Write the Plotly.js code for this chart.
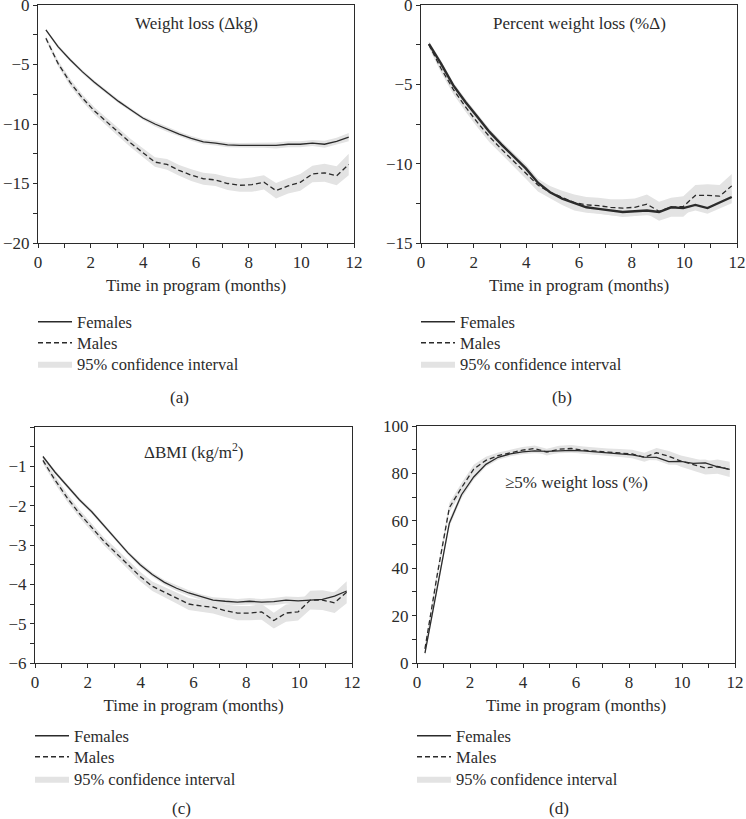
<!DOCTYPE html>
<html>
<head>
<meta charset="utf-8">
<script src="https://cdn.plot.ly/plotly-3.0.1.min.js"></script>
<style>html,body{margin:0;padding:0;background:#fff;}#chart{width:746px;height:819px;}</style>
</head>
<body>
<div id="chart"></div>
<script>
// ---- Data ----
const months = [0.3, 0.76, 1.22, 1.68, 2.14, 2.6, 3.06, 3.52, 3.98, 4.44, 4.9, 5.36, 5.82,
                6.28, 6.74, 7.2, 7.66, 8.12, 8.58, 9.04, 9.5, 9.96, 10.42, 10.88, 11.34, 11.8];

// (a) Weight loss (Δkg)
const weightF   = [-2.1, -3.5, -4.6, -5.6, -6.5, -7.3, -8.1, -8.8, -9.5, -10.0, -10.45, -10.85, -11.2,
                   -11.5, -11.6, -11.75, -11.8, -11.8, -11.8, -11.8, -11.7, -11.7, -11.6, -11.7, -11.45, -11.1];
const weightM   = [-2.8, -4.9, -6.5, -7.8, -8.9, -9.8, -10.7, -11.6, -12.4, -13.2, -13.4, -13.9, -14.3,
                   -14.6, -14.7, -15.0, -15.15, -15.1, -14.9, -15.6, -15.2, -14.9, -14.2, -14.1, -14.35, -13.4];
const weightFci = [0.1, 0.15, 0.15, 0.15, 0.15, 0.15, 0.15, 0.15, 0.15, 0.2, 0.2, 0.2, 0.2,
                   0.2, 0.2, 0.2, 0.2, 0.2, 0.2, 0.25, 0.25, 0.25, 0.25, 0.3, 0.3, 0.35];
const weightMci = [0.2, 0.25, 0.3, 0.3, 0.3, 0.35, 0.35, 0.35, 0.4, 0.4, 0.45, 0.45, 0.5,
                   0.5, 0.5, 0.55, 0.55, 0.6, 0.6, 0.65, 0.65, 0.7, 0.7, 0.75, 0.8, 0.9];

// (b) Percent weight loss (%Δ)
const pctF   = [-2.45, -3.7, -5.05, -6.1, -7.05, -8.0, -8.8, -9.55, -10.3, -11.2, -11.8, -12.2, -12.5,
                -12.75, -12.85, -12.95, -13.05, -13.0, -12.95, -13.05, -12.75, -12.8, -12.6, -12.8, -12.45, -12.1];
const pctM   = [-2.5, -4.0, -5.3, -6.4, -7.4, -8.3, -9.1, -9.85, -10.55, -11.35, -11.8, -12.15, -12.45,
                -12.6, -12.65, -12.75, -12.8, -12.75, -12.55, -13.0, -12.75, -12.7, -12.0, -12.0, -12.05, -11.4];
const pctFci = [0.15, 0.2, 0.2, 0.2, 0.2, 0.2, 0.2, 0.2, 0.25, 0.25, 0.25, 0.25, 0.3,
                0.3, 0.3, 0.3, 0.3, 0.3, 0.3, 0.3, 0.35, 0.35, 0.35, 0.35, 0.4, 0.4];
const pctMci = [0.2, 0.25, 0.3, 0.3, 0.3, 0.35, 0.35, 0.35, 0.4, 0.4, 0.4, 0.45, 0.5,
                0.5, 0.5, 0.5, 0.55, 0.55, 0.6, 0.6, 0.6, 0.65, 0.65, 0.7, 0.7, 0.75];

// (c) ΔBMI (kg/m²)
const bmiF   = [-0.75, -1.15, -1.5, -1.85, -2.15, -2.5, -2.85, -3.2, -3.5, -3.75, -3.95, -4.1, -4.22,
                -4.32, -4.4, -4.43, -4.45, -4.43, -4.45, -4.44, -4.4, -4.42, -4.4, -4.38, -4.3, -4.17];
const bmiM   = [-0.85, -1.35, -1.8, -2.2, -2.55, -2.9, -3.2, -3.5, -3.8, -4.05, -4.2, -4.35, -4.5,
                -4.55, -4.58, -4.67, -4.73, -4.73, -4.7, -4.92, -4.73, -4.7, -4.4, -4.4, -4.47, -4.2];
const bmiFci = [0.03, 0.05, 0.05, 0.05, 0.05, 0.05, 0.05, 0.05, 0.06, 0.06, 0.06, 0.07, 0.07,
                0.07, 0.07, 0.08, 0.08, 0.08, 0.08, 0.09, 0.09, 0.1, 0.1, 0.1, 0.11, 0.12];
const bmiMci = [0.08, 0.1, 0.1, 0.1, 0.1, 0.1, 0.12, 0.12, 0.12, 0.12, 0.14, 0.14, 0.15,
                0.15, 0.16, 0.16, 0.18, 0.18, 0.2, 0.2, 0.22, 0.22, 0.24, 0.25, 0.26, 0.28];

// (d) ≥5% weight loss (%)
const fiveF   = [4.2, 31, 59, 71, 78.5, 83.8, 86.8, 88.2, 89.1, 89.5, 89.3, 89.5, 89.7,
                 89.5, 89.0, 88.7, 88.3, 87.8, 86.9, 86.8, 85.0, 85.1, 84.2, 84.4, 82.8, 81.7];
const fiveM   = [6, 37, 65.5, 74, 81.8, 85.5, 87.5, 88.8, 89.8, 90.5, 89.0, 90.2, 90.5,
                 89.8, 89.3, 88.9, 88.6, 88.2, 86.8, 88.7, 87.2, 85.2, 83.8, 82.3, 82.9, 81.7];
const fiveFci = [1, 1.5, 1.5, 1.5, 1.2, 1, 1, 1, 1, 1, 1, 1, 1,
                 1, 1, 1, 1, 1, 1.2, 1.2, 1.3, 1.4, 1.5, 1.5, 1.6, 1.7];
const fiveMci = [1.5, 2, 2, 2, 1.8, 1.5, 1.3, 1.3, 1.3, 1.3, 1.4, 1.5, 1.5,
                 1.5, 1.5, 1.6, 1.7, 1.8, 1.9, 2, 2.2, 2.4, 2.6, 2.8, 3, 3.2];

const panelTitles = ['Weight loss (Δkg)', 'Percent weight loss (%Δ)', 'ΔBMI (kg/m<sup>2</sup>)', '≥5% weight loss (%)'];
const panelLabels = ['(a)', '(b)', '(c)', '(d)'];
const seriesNames = ['Females', 'Males', '95% confidence interval'];
const xTitle = 'Time in program (months)';

// ---- Drawing ----
const FONT = 'Liberation Serif, Times New Roman, serif';
const INK = '#2b2b2b';
const BAND = '#e3e3e3';
const W = 746, H = 819;
const px = v => v / W;
const py = v => 1 - v / H;

const panels = [
  {F: weightF, M: weightM, Fci: weightFci, Mci: weightMci, fw: 1.3},
  {F: pctF, M: pctM, Fci: pctFci, Mci: pctMci, fw: 2.4},
  {F: bmiF, M: bmiM, Fci: bmiFci, Mci: bmiMci, fw: 1.3},
  {F: fiveF, M: fiveM, Fci: fiveFci, Mci: fiveMci, fw: 1.3}
];

function band(mean, hw) {
  const up = mean.map((v, i) => v + hw[i]);
  const lo = mean.map((v, i) => v - hw[i]);
  return {x: months.concat(months.slice().reverse()), y: up.concat(lo.slice().reverse())};
}

// legend placement (pixel): [sample-left x, Females y, Males y, CI y]
const legendPos = [[33, 322, 343, 364], [416, 322, 343, 364], [30, 736, 757, 779], [412, 736, 757, 779]];

const traces = [];
panels.forEach((p, k) => {
  const xa = k === 0 ? 'x' : 'x' + (k + 1);
  const ya = k === 0 ? 'y' : 'y' + (k + 1);
  const lgF = 'legend' + (3 * k + 1 === 1 ? '' : 3 * k + 1);
  const lgM = 'legend' + (3 * k + 2);
  const lgC = 'legend' + (3 * k + 3);
  const bm = band(p.M, p.Mci), bf = band(p.F, p.Fci);
  traces.push({x: bm.x, y: bm.y, xaxis: xa, yaxis: ya, type: 'scatter', mode: 'lines', fill: 'toself',
    fillcolor: BAND, line: {width: 0, color: BAND}, name: seriesNames[2], legend: lgC,
    showlegend: true, hoverinfo: 'skip'});
  traces.push({x: bf.x, y: bf.y, xaxis: xa, yaxis: ya, type: 'scatter', mode: 'lines', fill: 'toself',
    fillcolor: BAND, line: {width: 0, color: BAND}, name: seriesNames[2],
    showlegend: false, hoverinfo: 'skip'});
  traces.push({x: months, y: p.M, xaxis: xa, yaxis: ya, type: 'scatter', mode: 'lines',
    line: {color: INK, width: 1.3, dash: '5px,3px'}, name: seriesNames[1], legend: lgM});
  traces.push({x: months, y: p.F, xaxis: xa, yaxis: ya, type: 'scatter', mode: 'lines',
    line: {color: INK, width: p.fw}, name: seriesNames[0], legend: lgF, showlegend: p.fw < 2});
  if (p.fw >= 2) {
    // legend key for the heavier female line is drawn thin, as in the reference
    traces.push({x: [null], y: [null], xaxis: xa, yaxis: ya, type: 'scatter', mode: 'lines',
      line: {color: INK, width: 1.3}, name: seriesNames[0], legend: lgF, hoverinfo: 'skip'});
  }
});

// plot-area pixel boxes [left, right, top, bottom]
const boxes = [[38, 354, 5, 243], [421, 737, 5, 243], [35, 352, 427, 663], [417, 735, 426, 663]];
const yRanges = [[-20, 0], [-15, 0], [-6, 0], [0, 100]];
const yDticks = [5, 5, 1, 20];
const yMinor = [2.5, 2.5, 0.5, 10];

const FS = 17;
const tickFont = {family: FONT, size: FS, color: INK};
const layout = {
  width: W, height: H, margin: {l: 0, r: 0, t: 0, b: 0},
  paper_bgcolor: '#fff', plot_bgcolor: '#fff', showlegend: true,
  font: {family: FONT, size: FS, color: INK},
  annotations: []
};

boxes.forEach((b, k) => {
  const sfx = k === 0 ? '' : String(k + 1);
  const yr = yRanges[k];
  layout['xaxis' + sfx] = {
    domain: [px(b[0]), px(b[1])], anchor: 'y' + sfx, range: [0, 12], dtick: 2, tick0: 0,
    ticks: 'outside', ticklen: 4, tickwidth: 1, tickcolor: INK, ticklabeloverflow: 'allow',
    minor: {dtick: 1, ticks: 'outside', ticklen: 4, tickwidth: 1, tickcolor: INK, showgrid: false},
    showline: true, linecolor: INK, linewidth: 1, mirror: true, showgrid: false, zeroline: false,
    tickfont: tickFont, title: {text: xTitle, font: {family: FONT, size: FS, color: INK}, standoff: 7}
  };
  const ya = {
    domain: [py(b[3]), py(b[2])], anchor: 'x' + sfx, range: yr, dtick: yDticks[k], tick0: 0,
    ticks: 'outside', ticklen: 4, tickwidth: 1, tickcolor: INK, ticklabeloverflow: 'allow',
    minor: {dtick: yMinor[k], ticks: 'outside', ticklen: 4, tickwidth: 1, tickcolor: INK, showgrid: false},
    showline: true, linecolor: INK, linewidth: 1, mirror: true, showgrid: false, zeroline: false,
    tickfont: tickFont
  };
  if (k === 2) { ya.tickmode = 'array'; ya.tickvals = [-6, -5, -4, -3, -2, -1]; }
  layout['yaxis' + sfx] = ya;
});

// panel titles inside plots
const titlePos = [[196, 23], [579, 23], [194, 451], [576, 482]];
panelTitles.forEach((t, k) => {
  layout.annotations.push({text: t, xref: 'paper', yref: 'paper', x: px(titlePos[k][0]), y: py(titlePos[k][1]),
    xanchor: 'center', yanchor: 'middle', showarrow: false, font: {family: FONT, size: FS, color: INK}});
});
// panel letters
const labelPos = [[179, 397], [562, 397], [181, 808], [559, 808]];
panelLabels.forEach((t, k) => {
  layout.annotations.push({text: t, xref: 'paper', yref: 'paper', x: px(labelPos[k][0]), y: py(labelPos[k][1]),
    xanchor: 'center', yanchor: 'middle', showarrow: false, font: {family: FONT, size: FS, color: INK}});
});

// one legend per key so that each row sits where the reference puts it
legendPos.forEach((p, k) => {
  [p[1], p[2], p[3]].forEach((yy, j) => {
    const n = 3 * k + j + 1;
    layout[n === 1 ? 'legend' : 'legend' + n] = {
      x: px(p[0]), y: py(yy), xanchor: 'left', yanchor: 'middle', xref: 'paper', yref: 'paper',
      bgcolor: 'rgba(0,0,0,0)', borderwidth: 0, itemwidth: 34,
      font: {family: FONT, size: 16.5, color: INK},
      itemclick: false, itemdoubleclick: false
    };
  });
});

Plotly.newPlot('chart', traces, layout, {staticPlot: true, displayModeBar: false});
</script>
</body>
</html>
